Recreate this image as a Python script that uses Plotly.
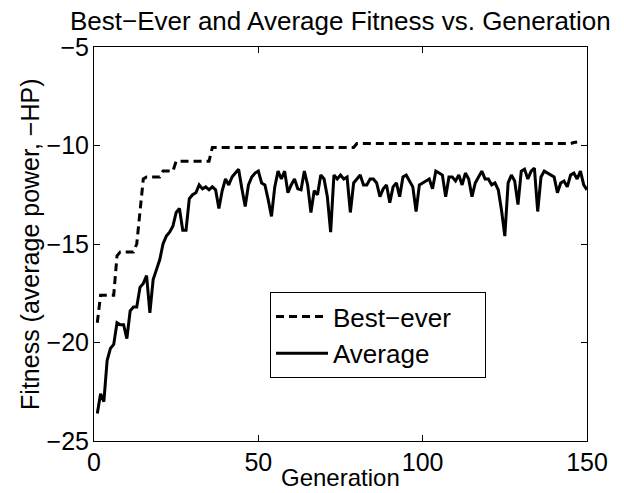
import plotly.graph_objects as go

generations = list(range(1, 151))

best_ever = (
    [-19.0] + [-17.6] * 5 + [-15.6] + [-15.4] * 5 + [-15.0, -13.3, -11.7]
    + [-11.6] * 5 + [-11.3] * 4 + [-10.8] * 11 + [-10.1] * 44 + [-9.9] * 66 + [-9.85, -9.82]
)

average = [
    -23.6, -22.6, -23.0, -20.9, -20.3, -20.1, -19.0, -19.1, -19.1, -19.8,
    -18.4, -18.2, -18.2, -17.2, -17.0, -16.6, -18.5, -16.8, -16.3, -15.8,
    -15.0, -14.6, -14.4, -14.1, -13.4, -13.2, -14.3, -14.3, -12.7, -12.5,
    -12.4, -12.0, -12.2, -12.1, -12.25, -12.1, -12.25, -13.2, -12.3, -11.7,
    -12.0, -11.6, -11.4, -11.2, -12.2, -13.1, -12.0, -11.6, -11.4, -11.3,
    -11.9, -12.0, -12.75, -13.6, -12.1, -11.3, -11.7, -11.3, -12.4, -12.0,
    -11.7, -12.2, -12.25, -11.3, -12.0, -13.4, -12.3, -12.5, -11.5, -11.7,
    -12.6, -14.4, -11.5, -11.7, -11.5, -11.7, -11.6, -13.4, -11.9, -11.7,
    -11.5, -12.0, -12.0, -11.7, -11.7, -11.9, -12.6, -12.2, -12.0, -12.9,
    -12.1, -11.9, -12.6, -11.6, -11.5, -11.8, -12.1, -13.35, -12.0, -11.9,
    -11.8, -11.7, -12.2, -11.3, -11.4, -11.5, -12.6, -11.6, -11.6, -11.8,
    -11.5, -12.0, -11.4, -11.7, -12.6, -11.9, -11.6, -11.3, -11.7, -11.7,
    -12.0, -11.9, -12.25, -13.3, -14.6, -11.9, -11.5, -11.8, -13.0, -11.3,
    -11.2, -11.7, -11.3, -11.15, -13.35, -11.6, -11.3, -11.4, -11.5, -11.6,
    -12.4, -11.9, -11.8, -12.1, -11.5, -11.4, -11.7, -11.3, -12.0, -12.25,
]

series_names = ["Best\u2212ever", "Average"]
x_ticks = [0, 50, 100, 150]
y_ticks = [-25, -20, -15, -10, -5]

FONT = "Liberation Sans, Arial, Helvetica, sans-serif"
FS = 25
PAD = "\u00a0" * 4

fig = go.Figure()
fig.add_trace(go.Scatter(
    x=generations, y=best_ever, mode="lines", name=series_names[0] + PAD,
    line=dict(color="black", width=3, dash="8px,5px"),
))
fig.add_trace(go.Scatter(
    x=generations, y=average, mode="lines", name=series_names[1] + PAD,
    line=dict(color="black", width=3),
))

axis_common = dict(
    showline=True, linecolor="black", linewidth=1, mirror="ticks",
    ticks="inside", ticklen=6, tickcolor="black", tickwidth=1,
    showgrid=False, zeroline=False,
    tickfont=dict(family=FONT, size=FS, color="black"),
)

fig.update_xaxes(range=[0, 150], tickvals=x_ticks, ticklabelstandoff=-1, **axis_common)
fig.update_yaxes(range=[-25, -5], tickvals=y_ticks, ticklabelstandoff=-1, **axis_common)

fig.update_layout(
    width=624, height=493,
    margin=dict(l=94, r=37, t=47, b=52),
    paper_bgcolor="white", plot_bgcolor="white",
    font=dict(family=FONT, size=FS, color="black"),
    showlegend=True,
    legend=dict(
        x=0.357, y=0.378, xanchor="left", yanchor="top",
        bordercolor="black", borderwidth=1, bgcolor="white",
        font=dict(family=FONT, size=26, color="black"),
        itemwidth=52, tracegroupgap=0,
    ),
    annotations=[
        dict(text="Best\u2212Ever and Average Fitness vs. Generation",
             xref="paper", yref="paper", x=0.5, y=1.066, showarrow=False,
             xanchor="center", yanchor="middle", font=dict(family=FONT, size=26)),
        dict(text="Generation", xref="paper", yref="paper", x=0.5, y=-0.092,
             showarrow=False, xanchor="center", yanchor="middle",
             font=dict(family=FONT, size=24)),
        dict(text="Fitness (average power, \u2212HP)", xref="paper", yref="paper",
             x=-0.13, y=0.5, showarrow=False, textangle=-90,
             xanchor="center", yanchor="middle", font=dict(family=FONT, size=FS)),
    ],
)

fig.write_html("out.html")
